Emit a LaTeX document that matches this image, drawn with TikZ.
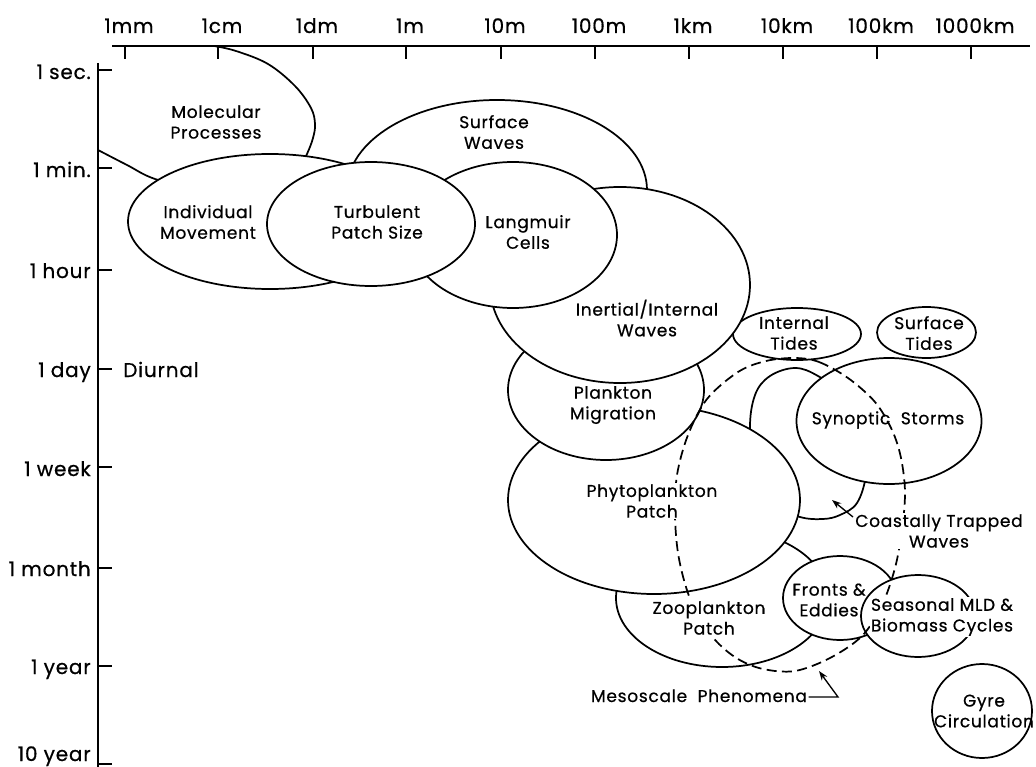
\documentclass[tikz,border=0pt]{standalone}
\usepackage{fontspec}
\setmainfont{Poppins}[LetterSpace=4, FakeBold=0.6]
\usetikzlibrary{shapes.geometric,arrows.meta}
\tikzset{
  ln/.style={line width=1.3pt, line join=round},
  ell/.style 2 args={ellipse, draw, ln, fill=white, inner sep=0pt, outer sep=0pt,
    minimum width=#1*1.5pt, minimum height=#2*1.5pt},
  lbl/.style={align=center, inner sep=1pt, font=\fontsize{12.8}{15.5}\selectfont},
  mask/.style={fill=white},
  axl/.style={font=\fontsize{15}{17}\selectfont, inner sep=0pt},
  arr/.style={line width=1pt, -{Stealth[length=7pt,width=5pt]}},
  mesoline/.style={line width=1.3pt, dash pattern=on 7.5pt off 4pt},
}
\begin{document}
\begin{tikzpicture}[x=0.75pt,y=-0.75pt]
\fill[white] (0,0) rectangle (1036,767);
\useasboundingbox (0,0) rectangle (1036,767);

% ---------- axes ----------
\coordinate (xa0) at (112,46);
\coordinate (xa1) at (1030,46);
\draw[ln] (xa0) -- (xa1);
\coordinate (ya0) at (98,63);
\coordinate (ya1) at (98,767);
\draw[ln] (ya0) -- (ya1);
\foreach \x/\t [count=\i] in {125/1mm,218/1cm,313/1dm,406/1m,501/10m,595/100m,689/1km,783/10km,877/100km,971/1000km}{
  \draw[ln] (\x,46) -- (\x,59);
  \node[axl, anchor=base] (top\i) at (\x+4,33) {\t};
}
\foreach \y/\b/\t [count=\i] in {70/79/1 sec.,168/177/1 min.,270/278/1 hour,369/377/1 day,467/476/1 week,568/576/1 month,666/674/1 year,764/761/10 year}{
  \draw[ln] (98,\y) -- (112,\y);
  \node[axl, anchor=base east] (left\i) at (91,\b) {\t};
}
\node[axl, anchor=base west] (diurnal) at (123,377) {Diurnal};

% ---------- regimes (back to front) ----------
% Molecular Processes (clipped by the axes)
\draw[ln] plot[smooth,tension=0.6] coordinates {(98,150) (127,165) (155,179) (205,192)};
\draw[ln] plot[smooth,tension=0.6] coordinates {(298,172) (307,154) (313,138) (315,124) (311,108) (295,86) (268,64) (236,51) (214,46)};

\node[ell={150}{90}] (sw) at (497,190) {};
\node[ell={106}{69}] (zp) at (722,598) {};
% Coastally trapped waves
\draw[ln, fill=white] plot[smooth cycle,tension=0.6] coordinates {(795,368) (818,376) (848,398) (866,440) (866,475) (857,503) (840,515) (823,519) (800,517) (775,505) (757,475) (750,430) (755,395) (770,376)};
\node[ell={146}{94}] (pp) at (654,500) {};
\node[ell={98}{70}] (pm) at (606,390) {};
\node[ell={64}{26}] (it) at (797,334) {};
\node[ell={130}{98}] (iiw) at (620,285) {};
\node[ell={104}{73}] (lc) at (513,235) {};
\node[ell={142}{67.5}] (im) at (270,221.5) {};
\node[ell={104}{62}] (tps) at (371,224) {};
\node[ell={92.5}{63}] (ss) at (889,421) {};
\node[ell={49.5}{25.5}] (st) at (926.5,332.5) {};
\node[ell={57}{42}] (fe) at (840,598) {};
\node[ell={57}{41}] (smb) at (918,616) {};
\node[ell={50}{47}] (gc) at (982,711) {};

% Mesoscale phenomena (dashed)
\draw[mesoline] plot[smooth cycle,tension=0.55] coordinates {(795,358) (819,362) (848,378) (875,402) (892,430) (901,458) (905,492) (902,530) (895,568) (882,605) (862,636) (830,658) (795,671) (763,669) (738,659) (717,642) (698,617) (686,587) (678,553) (675,515) (677,475) (688,435) (707,399) (738,372) (766,361)};

% ---------- labels ----------
\node[lbl] (lmp) at (216,122) {Molecular\\Processes};
\node[lbl] (lim) at (208,222) {Individual\\Movement};
\node[lbl] (ltps) at (377,222) {Turbulent\\Patch Size};
\node[lbl] (lsw) at (494,132) {Surface\\Waves};
\node[lbl] (llc) at (528,232) {Langmuir\\Cells};
\node[lbl] (liiw) at (647,318) {Inertial/Internal\\Waves};
\node[lbl] (lit) at (794,333) {Internal\\Tides};
\node[lbl] (lst) at (929,333) {Surface\\Tides};
\node[lbl] (lpm) at (613,405) {Plankton\\Migration};
\node[lbl] (lss) at (888,420) {Synoptic\ \ Storms};
\node[lbl, mask] (lpp) at (652,501) {Phytoplankton\\Patch};
\node[lbl, mask] (lctw) at (939,531) {Coastally Trapped\\Waves};
\node[lbl, mask] (lzp) at (709,618) {Zooplankton\\Patch};
\node[lbl] (lfe) at (829,600) {Fronts \&\\Eddies};
\node[lbl, mask] (lsmb) at (942,617) {Seasonal MLD \&\\Biomass Cycles};
\node[lbl] (lgc) at (984,711) {Gyre\\Circulation};
\node[lbl, anchor=base] (lmeso) at (699,702) {Mesoscale\ \ Phenomena};

% ---------- pointers ----------
\coordinate (ctwA) at (853,517);
\coordinate (ctwB) at (832,500);
\draw[arr] (ctwA) -- (ctwB);
\coordinate (mesoK) at (838,697);
\coordinate (mesoT) at (819,671);
\draw[arr] (lmeso.east |- mesoK) -- (mesoK) -- (mesoT);
\end{tikzpicture}
\end{document}
